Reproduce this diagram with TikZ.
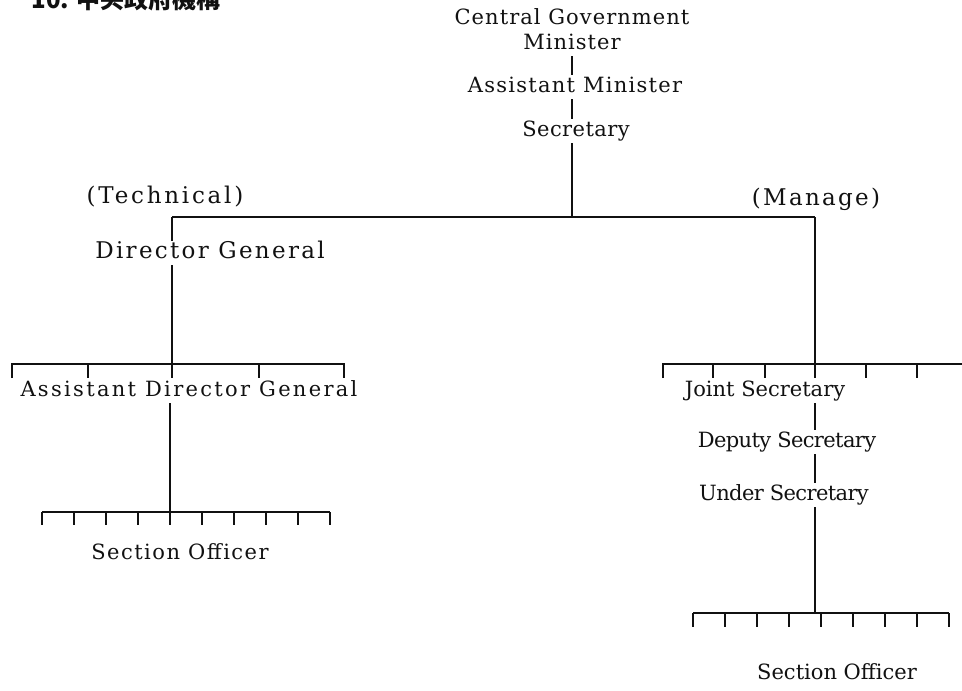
\documentclass[tikz,border=0pt]{standalone}
\usepackage{fontspec}
\setmainfont{DejaVu Serif}
\newfontfamily\cjkfont{Noto Sans CJK TC}
\usetikzlibrary{calc,positioning}
\definecolor{InkBlack}{HTML}{111111}

\begin{document}
\begin{tikzpicture}[x=1pt, y=-1pt,
        post/.style={font=\fontsize{21}{25}\selectfont\addfontfeatures{LetterSpace=#1},
            text=InkBlack, inner sep=3pt, text height=14pt, text depth=4pt, anchor=base},
        post/.default=0,
        tag/.style={post, font=\fontsize{23}{25}\selectfont\addfontfeatures{LetterSpace=#1}},
        wire/.style={draw=InkBlack, line width=1.8pt}]
    \useasboundingbox (0,0) rectangle (962,691);

    % title, cut off by the page edge
    \begin{scope}
        \clip (0,0) rectangle (962,691);
        \node[anchor=base west, text=InkBlack, font=\cjkfont\bfseries\fontsize{24}{24}\selectfont] (ttl) at (28,8) {10. 中央政府機構};
    \end{scope}

    % top of the chain
    \node[post=5] (cg) at (572,24) {Central Government};
    \node[post=5] (min) at (572,49) {Minister};
    \node[post=6] (am) at (575,92) {Assistant Minister};
    \node[post=2] (sec) at (576,136) {Secretary};

    \node[tag=12] (tec) at (165,203) {(Technical)};
    \node[tag=10] (man) at (816,205) {(Manage)};

    \coordinate (jl) at (172,217);
    \coordinate (jr) at (815,217);
    \coordinate (lb) at (172,364);
    \coordinate (rb) at (815,364);

    \node[tag=10] (dg) at (210,258) {Director General};
    \node[post=11] (adg) at (189,396) {Assistant Director General};
    \node[post=7] (so1) at (180,559) {Section Officer};

    \node[post] (js) at (765,396) {Joint Secretary};
    \node[post=-3] (ds) at (787,447) {Deputy Secretary};
    \node[post=-3] (us) at (784,500) {Under Secretary};
    \node[post] (so2) at (837,679) {Section Officer};

    \coordinate (lc) at (170,512);
    \coordinate (rc) at (815,613);

    % connectors
    \draw[wire] (min.south -| cg) -- (am.north -| cg);
    \draw[wire] (am.south -| cg) -- (sec.north -| cg);
    \draw[wire] (sec.south -| cg) -- (cg |- jl);
    \draw[wire] (jl) -- (jr);
    \draw[wire] (jl) -- (dg.north -| jl);
    \draw[wire] (dg.south -| jl) -- (lb);
    \draw[wire] (jr) -- (rb);

    % second level brackets
    \draw[wire] (12,378) -- (12,364) -- (344,364) -- (344,378);
    \foreach \x in {88,172,259}
        \draw[wire] (\x,364) -- (\x,378);
    \draw[wire] (663,378) -- (663,364) -- (962,364);
    \foreach \x in {713,765,815,866,917}
        \draw[wire] (\x,364) -- (\x,378);

    % technical side
    \draw[wire] (adg.south -| lc) -- (lc);
    \draw[wire] (42,512) -- (330,512);
    \foreach \k in {0,...,9}
        \draw[wire] ({42+32*\k},512) -- ({42+32*\k},525);

    % management side
    \draw[wire] (js.south -| rb) -- (ds.north -| rb);
    \draw[wire] (ds.south -| rb) -- (us.north -| rb);
    \draw[wire] (us.south -| rb) -- (rc);
    \draw[wire] (693,613) -- (949,613);
    \foreach \k in {0,...,8}
        \draw[wire] ({693+32*\k},613) -- ({693+32*\k},627);
\end{tikzpicture}
\end{document}
